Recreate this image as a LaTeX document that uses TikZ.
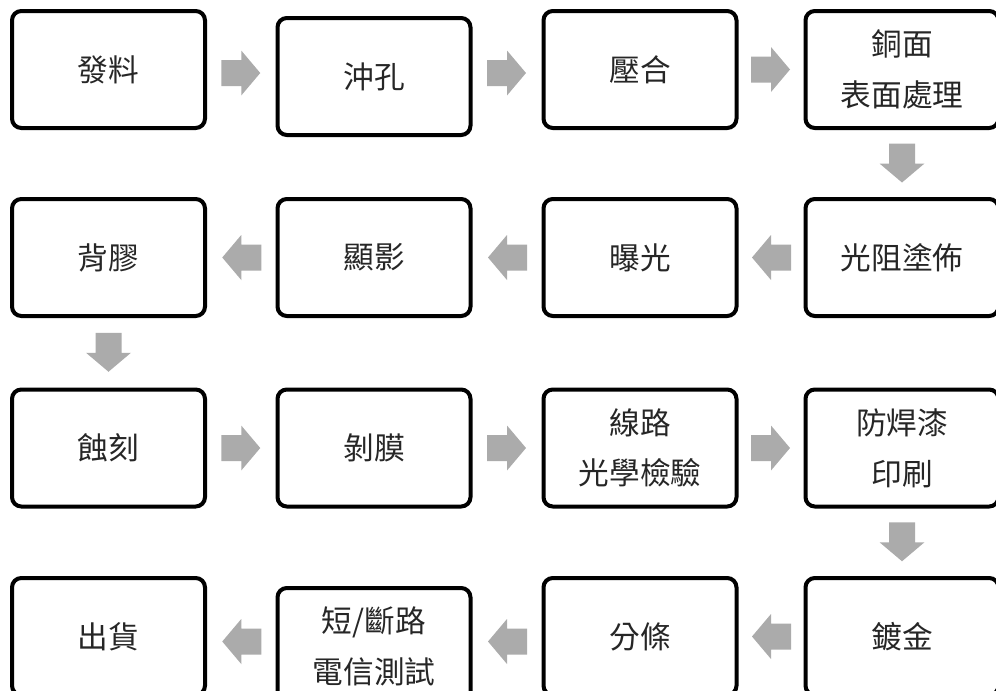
\documentclass[tikz,border=0pt]{standalone}
\usepackage{fontspec}
\setmainfont{Noto Sans CJK TC}
\usetikzlibrary{calc}
\tikzset{
  stage/.style={draw, line width=3pt, rounded corners=7pt, minimum width=144.75pt,
    minimum height=87.75pt, align=center, text=black!85,
    font=\fontsize{23}{38}\selectfont},
  flow/.style={fill=black!33, draw=none}
}
\newcommand{\flowarrow}[3]{%
  \fill[flow, shift={($(#1)!0.5!(#2)$)}, rotate=#3]
    (-20,-13) -- (0,-13) -- (0,-22.5) -- (19,0) -- (0,22.5) -- (0,13) -- (-20,13) -- cycle;}

\begin{document}
\begin{tikzpicture}[x=0.75pt,y=-0.75pt]
\useasboundingbox (0,0) rectangle (996,690);
\clip (0,0) rectangle (996,690);
\node[stage] (issue) at (108.5,69.5) {發料};
\node[stage] (punch) at (374,76.5) {沖孔};
\node[stage] (press) at (640,69.5) {壓合};
\node[stage] (cuclean) at (902,69.5) {銅面\\表面處理};
\node[stage] (backglue) at (108.5,257.5) {背膠};
\node[stage] (develop) at (374,257.5) {顯影};
\node[stage] (expose) at (640,257.5) {曝光};
\node[stage] (coat) at (902,257.5) {光阻塗佈};
\node[stage] (etch) at (108.5,448) {蝕刻};
\node[stage] (strip) at (374,448) {剝膜};
\node[stage] (aoi) at (640,448) {線路\\光學檢驗};
\node[stage] (solder) at (902,448) {防焊漆\\印刷};
\node[stage] (ship) at (108.5,636.5) {出貨};
\node[stage] (etest) at (374,646.5) {短/斷路\\電信測試};
\node[stage] (slit) at (640,636.5) {分條};
\node[stage] (plate) at (902,636.5) {鍍金};

\flowarrow{issue.east}{punch.west}{0}
\flowarrow{punch.east}{press.west}{0}
\flowarrow{press.east}{cuclean.west}{0}
\flowarrow{cuclean.south}{coat.north}{-90}
\flowarrow{coat.west}{expose.east}{180}
\flowarrow{expose.west}{develop.east}{180}
\flowarrow{develop.west}{backglue.east}{180}
\flowarrow{backglue.south}{etch.north}{-90}
\flowarrow{etch.east}{strip.west}{0}
\flowarrow{strip.east}{aoi.west}{0}
\flowarrow{aoi.east}{solder.west}{0}
\flowarrow{solder.south}{plate.north}{-90}
\flowarrow{plate.west}{slit.east}{180}
\flowarrow{slit.west}{etest.east}{180}
\flowarrow{etest.west}{ship.east}{180}
\end{tikzpicture}
\end{document}
